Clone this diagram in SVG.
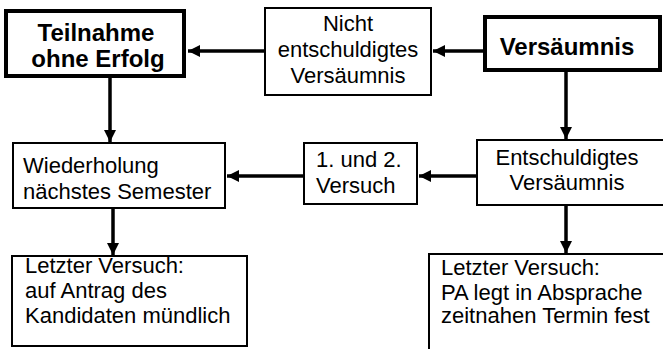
<svg xmlns="http://www.w3.org/2000/svg" width="663" height="349" viewBox="0 0 663 349">
<style>
  .box{fill:#fff;stroke:#000;stroke-width:2}
  .thick{fill:#fff;stroke:#000;stroke-width:4}
  .t{font-family:"Liberation Sans",Arial,sans-serif;font-size:22px;fill:#000}
  .b{font-family:"Liberation Sans",Arial,sans-serif;font-size:24px;font-weight:bold;fill:#000}
  .c{text-anchor:middle}
  .conn line{stroke:#000;stroke-width:3.5}
</style>
<defs>
  <marker id="ah" markerUnits="userSpaceOnUse" markerWidth="14" markerHeight="12" refX="12" refY="6" orient="auto">
    <path d="M0,0 L12,6 L0,12 Z" fill="#000"/>
  </marker>
</defs>
<rect width="663" height="349" fill="#fff"/>
<g class="conn">
  <line x1="264" y1="51" x2="188" y2="51" marker-end="url(#ah)"/>
  <line x1="483" y1="51" x2="433" y2="51" marker-end="url(#ah)"/>
  <line x1="110" y1="78" x2="110" y2="142" marker-end="url(#ah)"/>
  <line x1="566" y1="72" x2="566" y2="139" marker-end="url(#ah)"/>
  <line x1="303" y1="176" x2="227" y2="176" marker-end="url(#ah)"/>
  <line x1="476" y1="176" x2="419" y2="176" marker-end="url(#ah)"/>
  <line x1="113" y1="209" x2="113" y2="255" marker-end="url(#ah)"/>
  <line x1="566" y1="205" x2="566" y2="253" marker-end="url(#ah)"/>
</g>
<g id="teilnahme">
  <rect class="thick" x="6" y="11" width="178" height="65"/>
  <text class="b c" x="96" y="41">Teilnahme</text>
  <text class="b c" x="98" y="67">ohne Erfolg</text>
</g>
<g id="nicht">
  <rect class="box" x="265" y="8" width="166" height="87"/>
  <text class="t c" x="348" y="31">Nicht</text>
  <text class="t c" x="348" y="57">entschuldigtes</text>
  <text class="t c" x="348" y="83">Versäumnis</text>
</g>
<g id="versaeumnis">
  <rect class="thick" x="485" y="17" width="175" height="53"/>
  <text class="b c" x="567" y="55">Versäumnis</text>
</g>
<g id="wiederholung">
  <rect class="box" x="13" y="143" width="212" height="65"/>
  <text class="t" x="23" y="173">Wiederholung</text>
  <text class="t" x="23" y="199">nächstes Semester</text>
</g>
<g id="versuch12">
  <rect class="box" x="304" y="143" width="113" height="61"/>
  <text class="t" x="316" y="167">1. und 2.</text>
  <text class="t" x="316" y="193">Versuch</text>
</g>
<g id="entschuldigt">
  <rect class="box" x="477" y="140" width="200" height="65"/>
  <text class="t c" x="567" y="165">Entschuldigtes</text>
  <text class="t c" x="567" y="190">Versäumnis</text>
</g>
<g id="letzter-links">
  <rect class="box" x="12" y="256" width="235" height="90"/>
  <text class="t" x="25" y="273">Letzter Versuch:</text>
  <text class="t" x="25" y="298">auf Antrag des</text>
  <text class="t" x="25" y="323">Kandidaten mündlich</text>
</g>
<g id="letzter-rechts">
  <rect class="box" x="429" y="254" width="250" height="110"/>
  <text class="t" x="441" y="275">Letzter Versuch:</text>
  <text class="t" x="441" y="300">PA legt in Absprache</text>
  <text class="t" x="441" y="323">zeitnahen Termin fest</text>
</g>
</svg>
